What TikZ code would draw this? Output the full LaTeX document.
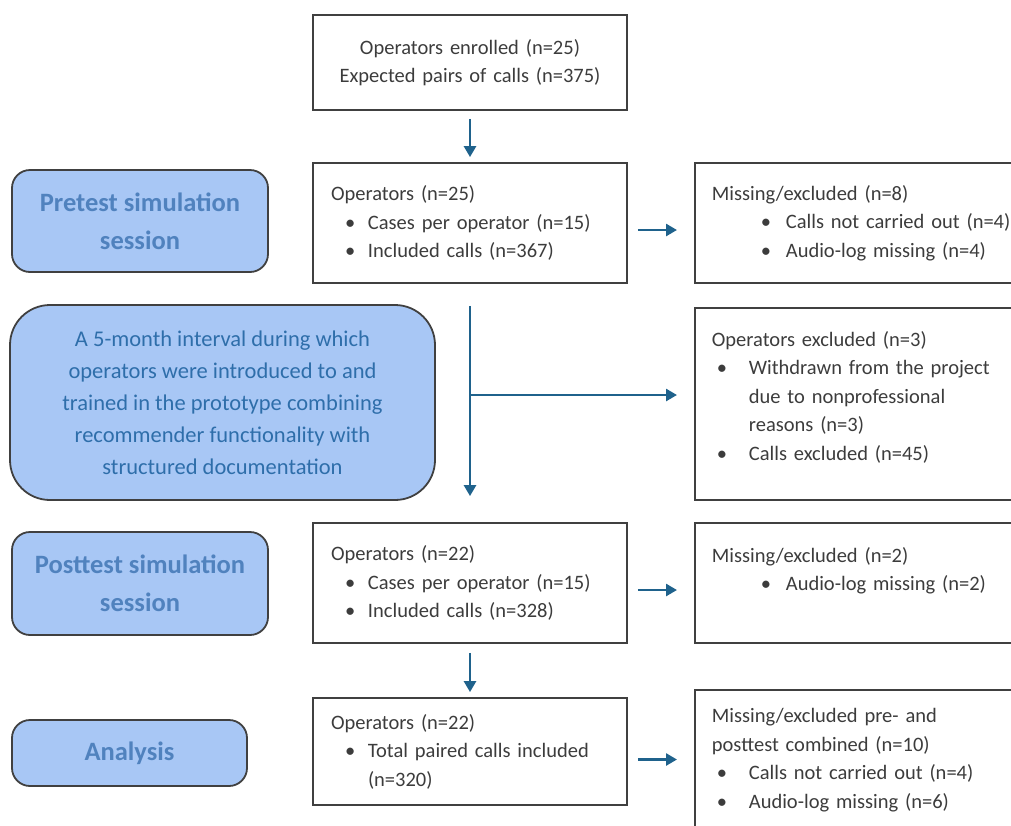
\documentclass[tikz,border=0pt]{standalone}
\usepackage{fontspec}
\setmainfont{Carlito}
\usepackage{xcolor}
\usetikzlibrary{positioning,calc,arrows.meta}

\definecolor{arrowblue}{RGB}{31,98,140}
\definecolor{phasefill}{RGB}{168,199,245}
\definecolor{phasetext}{RGB}{80,130,190}
\definecolor{intervaltext}{RGB}{46,110,170}
\definecolor{boxline}{RGB}{64,64,64}
\definecolor{bodytext}{RGB}{60,60,60}

% bullet line: offset of bullet, gap to text, text
\newcommand{\itm}[3]{\hspace*{#1}\makebox[#2][l]{\textbullet}#3}

\tikzset{
    flowbox/.style={draw=boxline, line width=1.8pt, text=bodytext, align=left, text width=278pt, inner xsep=18pt, font=\fontsize{20.5}{28.5}\selectfont},
    sidebox/.style={flowbox, text width=326pt, inner xsep=17pt, anchor=west},
    phase/.style={draw=boxline, line width=1.8pt, fill=phasefill, rounded corners=18pt, text=phasetext, align=center, font=\bfseries\fontsize{26.5}{38}\selectfont},
    arr/.style={draw=arrowblue, line width=2.6pt, -{Triangle[length=11pt,width=12pt]}}
}

\begin{document}
\begin{tikzpicture}[x=1pt, y=-1pt]
        \useasboundingbox (0,0) rectangle (1011,825);
        % middle column
        \node[flowbox, align=center, minimum height=95pt] (enrol) at (470,62.5) {Operators enrolled (n=25)\\Expected pairs of calls (n=375)};
        \node[flowbox, minimum height=120pt] (pre) at (470,223) {Operators (n=25)\\\itm{14pt}{23pt}{Cases per operator (n=15)}\\\itm{14pt}{23pt}{Included calls (n=367)}};
        \node[flowbox, minimum height=120pt] (post) at (470,583) {Operators (n=22)\\\itm{14pt}{23pt}{Cases per operator (n=15)}\\\itm{14pt}{23pt}{Included calls (n=328)}};
        \node[flowbox, minimum height=107pt] (ana) at (470,751.5) {Operators (n=22)\\\itm{14pt}{23pt}{Total paired calls included}\\\hspace*{37pt}(n=320)};
        % left column
        \node[phase, minimum width=256pt, minimum height=102pt] (preL) at (140,221) {Pretest simulation\\session};
        \node[phase, font=\fontsize{22.5}{32}\selectfont, text=intervaltext, rounded corners=40pt, minimum width=425pt, minimum height=195pt] (gap) at (222.5,402.5) {A 5-month interval during which\\operators were introduced to and\\trained in the prototype combining\\recommender functionality with\\structured documentation};
        \node[phase, minimum width=256pt, minimum height=103pt] (postL) at (140,583.5) {Posttest simulation\\session};
        \node[phase, minimum width=235pt, minimum height=66pt] (anaL) at (129.5,753) {Analysis};
        % right column
        \node[sidebox, minimum height=120pt] (miss1) at (694,223) {Missing/excluded (n=8)\\\itm{49pt}{25pt}{Calls not carried out (n=4)}\\\itm{49pt}{25pt}{Audio-log missing (n=4)}};
        \node[sidebox, minimum height=192pt] (excl) at (694,404) {Operators excluded (n=3)\\\itm{5pt}{32pt}{Withdrawn from the project}\\\hspace*{37pt}due to nonprofessional\\\hspace*{37pt}reasons (n=3)\\\itm{5pt}{32pt}{Calls excluded (n=45)}\\[-12pt]\mbox{}};
        \node[sidebox, minimum height=120pt] (miss2) at (694,583) {Missing/excluded (n=2)\\\itm{49pt}{25pt}{Audio-log missing (n=2)}\\\mbox{}};
        \node[sidebox, minimum height=140pt] (miss3) at (694,760) {Missing/excluded pre- and\\posttest combined (n=10)\\\itm{5pt}{32pt}{Calls not carried out (n=4)}\\\itm{5pt}{32pt}{Audio-log missing (n=6)}};
        % connectors
        \coordinate (br) at (470,395);
        \draw[arr, shorten <=8pt, shorten >=5pt] (enrol) -- (pre);
        \draw[arr, shorten <=10pt, shorten >=17pt] ([yshift=-7pt]pre.east) -- ([yshift=-7pt]miss1.west);
        \draw[arr, shorten <=22pt, shorten >=26pt] (pre) -- (post);
        \draw[arr, shorten >=17pt] (br) -- (br -| excl.west);
        \draw[arr, shorten <=10pt, shorten >=17pt] ([yshift=-7pt]post.east) -- ([yshift=-7pt]miss2.west);
        \draw[arr, shorten <=9pt, shorten >=5pt] (post) -- (ana);
        \draw[arr, shorten <=10pt, shorten >=17pt] ([yshift=-8pt]ana.east) -- ([yshift=-8pt]ana.east -| miss3.west);
    \end{tikzpicture}
\end{document}
